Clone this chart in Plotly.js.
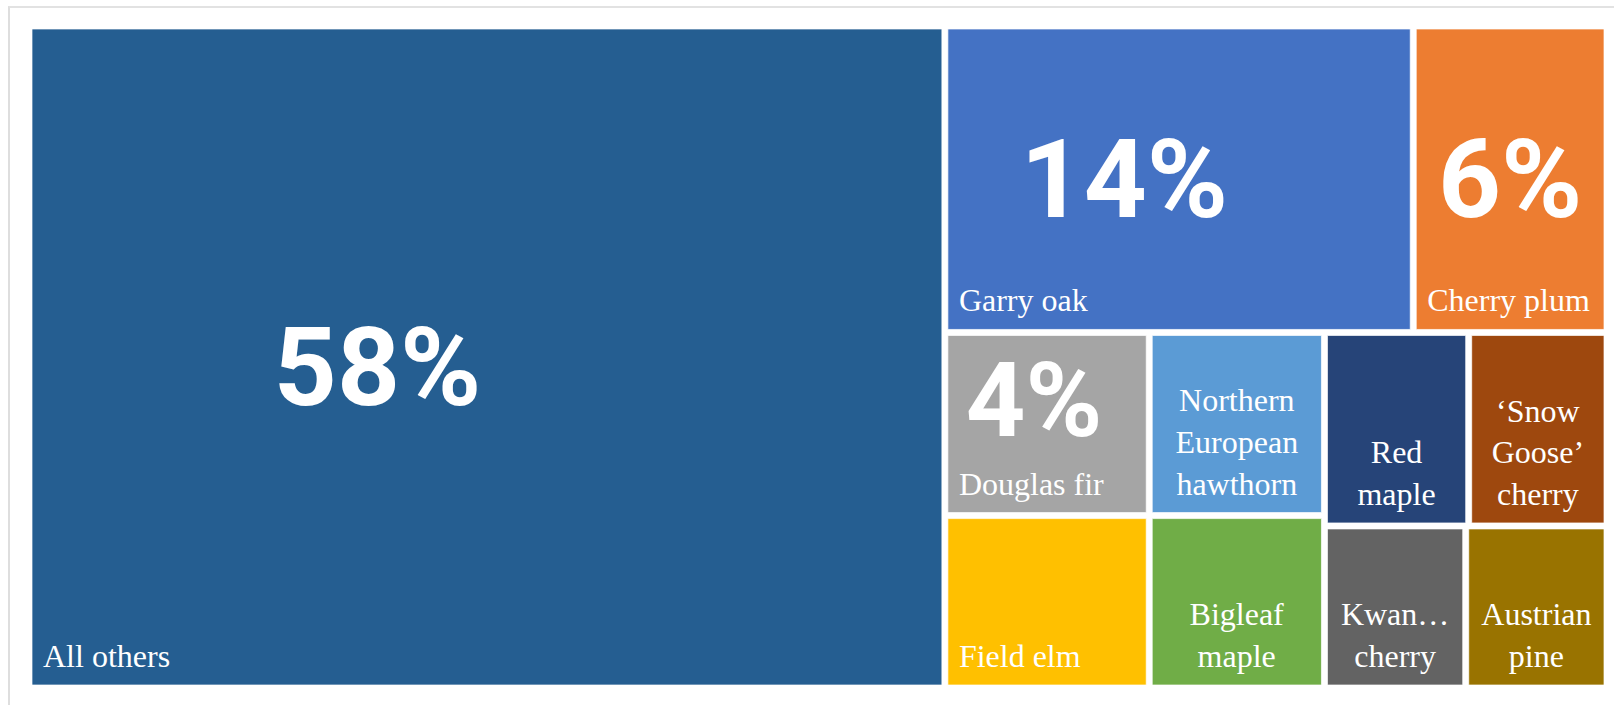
<!DOCTYPE html>
<html>
<head>
<meta charset="utf-8">
<script src="https://cdn.plot.ly/plotly-3.0.1.min.js"></script>
<style>
  html, body { margin: 0; padding: 0; background: #ffffff; }
  #chart { width: 1614px; height: 705px; position: absolute; left: 0; top: 0; }
  #frame { position: absolute; left: 8px; top: 6px; width: 1640px; height: 740px;
           border-left: 2px solid #dedede; border-top: 2px solid #e2e2e2;
           pointer-events: none; z-index: 10; }
</style>
</head>
<body>
<div id="chart"></div>
<div id="frame"></div>
<script>
// ---- data (shares of trees, % of total) ----
const species = ["All others", "Garry oak", "Cherry plum", "Douglas fir", "Field elm",
  "Northern European hawthorn", "Bigleaf maple", "Red maple", "‘Snow Goose’ cherry",
  "Kwan… cherry", "Austrian pine"];
const shares = [58, 13.73, 5.68, 3.58, 3.37, 3.07, 2.89, 2.67, 2.56, 2.19, 2.19];
const tileColors = ["#255e91", "#4472c4", "#ed7d31", "#a5a5a5", "#ffc000",
  "#5b9bd5", "#70ad47", "#264478", "#9e480e", "#636363", "#997300"];
// layout grouping (how the tiles are blocked together)
const speciesGroup = ["", "top", "top", "col1", "col1", "col2", "col2", "rowA", "rowA", "rowB", "rowB"];
const groups = ["right", "top", "bottom", "col1", "col2", "col3", "rowA", "rowB"];
const groupParent = ["", "right", "right", "bottom", "bottom", "bottom", "col3", "col3"];
// labels drawn in tiles
const singleLineNames = ["All others", "Garry oak", "Cherry plum", "Douglas fir", "Field elm", "", "", "", "", "", ""];
const multiLineNames = ["", "", "", "", "", "Northern<br>European<br>hawthorn", "Bigleaf<br>maple",
  "Red<br>maple", "‘Snow<br>Goose’<br>cherry", "Kwan…<br>cherry", "Austrian<br>pine"];
const shareLabelsLarge = ["58%", "", "", "", "", "", "", "", "", "", ""];
const shareLabelsMiddle = ["", "14%", "6%", "", "", "", "", "", "", "", ""];
const shareLabelsTop = ["", "", "", "4%", "", "", "", "", "", "", ""];
// trailing no-break spaces that push a centred percentage left, as in the original
const shareLabelShift = [8, 4, 0, 1, 0, 0, 0, 0, 0, 0, 0];

// ---- build hierarchy ----
const ids = species.concat(groups);
const parents = speciesGroup.concat(groupParent);
const values = shares.concat(groups.map(() => 0));
const blankGroups = groups.map(() => "");
const shifted = arr => arr.map((t, i) => t ? t + "\u00a0".repeat(shareLabelShift[i]) : t);

const W = 1572, H = 656, GAP = 6;
function trace(text, colors, lineWidth, font, position, inset, topInset) {
  const ti = inset + (topInset || 0);
  return {
    type: "treemap",
    ids: ids, labels: ids, parents: parents, values: values,
    branchvalues: "remainder",
    sort: false,
    text: text.concat(blankGroups),
    textinfo: "text",
    textposition: position,
    textfont: font,
    hoverinfo: "none",
    domain: { x: [inset / W, 1 - inset / W], y: [inset / H, 1 - ti / H] },
    tiling: { packing: "slice-dice", pad: GAP + 2 * inset },
    pathbar: { visible: false },
    leaf: { opacity: 1 },
    marker: {
      colors: colors,
      line: { width: lineWidth, color: "rgba(255,255,255,0.7)" },
      pad: { t: 0, l: 0, r: 0, b: 0 }
    }
  };
}
const clear = ids.map(() => "rgba(0,0,0,0)");
const nameFont = { family: "Liberation Serif", size: 32, color: "#ffffff" };
const shareFont = { family: "Roboto", size: 110, color: "#ffffff", weight: 700 };
const shareFontSmall = { family: "Roboto", size: 104, color: "#ffffff", weight: 700 };
const data = [
  trace(species.map(() => ""), tileColors.concat(groups.map(() => "#ffffff")), 1, nameFont, "middle center", 0),
  trace(singleLineNames, clear, 0, nameFont, "bottom left", 8),
  trace(multiLineNames, clear, 0, nameFont, "bottom center", 8),
  trace(shifted(shareLabelsLarge), clear, 0, shareFont, "middle center", 0, 20),
  trace(shifted(shareLabelsMiddle), clear, 0, shareFont, "middle center", 0),
  trace(shifted(shareLabelsTop), clear, 0, shareFontSmall, "top center", 2)
];
const layout = {
  width: 1614, height: 705,
  margin: { l: 32, r: 10, t: 29, b: 20 },
  paper_bgcolor: "#ffffff",
  showlegend: false
};
Plotly.newPlot("chart", data, layout, { displayModeBar: false, staticPlot: true });
</script>
</body>
</html>
